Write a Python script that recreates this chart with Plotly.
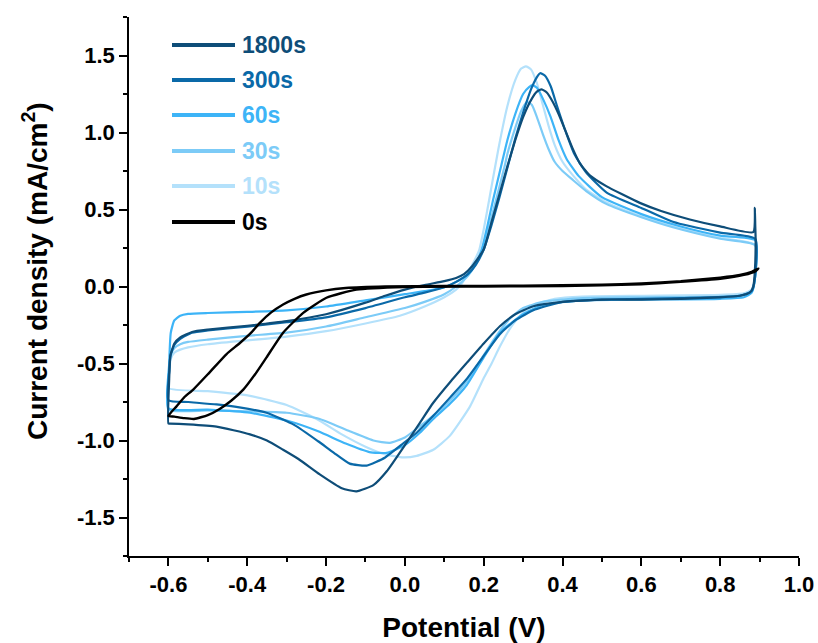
import plotly.graph_objects as go

# ---------------- data ----------------
labels = ["1800s", "300s", "60s", "30s", "10s", "0s"]
colors = ["#0e4d78", "#0a69a8", "#3db4f7", "#7ccbf7", "#b4e1fb", "#000000"]

# 1800s
v_1800 = [-0.600, -0.598, -0.595, -0.585, -0.57, -0.54, -0.50, -0.40, -0.30, -0.20, -0.10, -0.05, 0.00, 0.05, 0.10,
          0.13, 0.15, 0.17, 0.20, 0.22, 0.24, 0.26, 0.28, 0.30, 0.32, 0.335, 0.347, 0.36, 0.375, 0.39, 0.406, 0.425,
          0.444, 0.47, 0.512, 0.55, 0.596, 0.65, 0.723, 0.80, 0.884, 0.888, 0.889, 0.890, 0.888, 0.884, 0.875, 0.85,
          0.80, 0.70, 0.60, 0.50, 0.40, 0.326, 0.28, 0.241, 0.20, 0.157, 0.115, 0.072, 0.038, 0.00, -0.046, -0.08,
          -0.123, -0.16, -0.216, -0.27, -0.309, -0.35, -0.393, -0.478, -0.55, -0.596, -0.600]
i_1800 = [-0.89, -0.60, -0.45, -0.37, -0.33, -0.295, -0.28, -0.255, -0.225, -0.18, -0.105, -0.06, -0.02, 0.01, 0.035,
          0.055, 0.08, 0.13, 0.24, 0.42, 0.60, 0.78, 0.95, 1.10, 1.21, 1.265, 1.28, 1.26, 1.20, 1.12, 1.02, 0.90,
          0.80, 0.72, 0.65, 0.60, 0.543, 0.49, 0.435, 0.39, 0.353, 0.51, 0.40, 0.30, 0.10, 0.00, -0.04, -0.06,
          -0.07, -0.08, -0.085, -0.085, -0.10, -0.128, -0.18, -0.258, -0.37, -0.496, -0.62, -0.755, -0.885, -1.03, -1.20, -1.29,
          -1.33, -1.31, -1.22, -1.12, -1.06, -1.00, -0.96, -0.91, -0.895, -0.89, -0.89]

# 300s
v_300 = [-0.600, -0.598, -0.595, -0.585, -0.57, -0.54, -0.50, -0.40, -0.30, -0.20, -0.10, 0.00, 0.05, 0.10, 0.13,
         0.16, 0.18, 0.20, 0.22, 0.24, 0.26, 0.28, 0.30, 0.32, 0.335, 0.343, 0.355, 0.37, 0.385, 0.406, 0.43, 0.46,
         0.512, 0.60, 0.68, 0.80, 0.889, 0.888, 0.88, 0.85, 0.70, 0.50, 0.40, 0.33, 0.28, 0.241, 0.20, 0.157, 0.115,
         0.072, 0.03, -0.01, -0.05, -0.097, -0.14, -0.18, -0.22, -0.28, -0.351, -0.42, -0.478, -0.55, -0.600]
i_300 = [-0.738, -0.55, -0.45, -0.38, -0.34, -0.30, -0.285, -0.26, -0.232, -0.20, -0.14, -0.07, -0.04, -0.005, 0.03,
         0.08, 0.14, 0.24, 0.40, 0.58, 0.77, 0.96, 1.13, 1.28, 1.36, 1.385, 1.37, 1.30, 1.18, 1.02, 0.86, 0.74,
         0.61, 0.51, 0.42, 0.35, 0.31, 0.05, -0.03, -0.06, -0.075, -0.085, -0.10, -0.15, -0.22, -0.31, -0.45, -0.60, -0.72,
         -0.84, -0.95, -1.03, -1.11, -1.163, -1.15, -1.08, -1.005, -0.90, -0.82, -0.785, -0.766, -0.75, -0.738]

# 60s
v_60 = [-0.600, -0.598, -0.594, -0.585, -0.57, -0.55, -0.50, -0.40, -0.30, -0.20, -0.10, 0.00, 0.05, 0.10, 0.13,
        0.16, 0.18, 0.195, 0.21, 0.224, 0.245, 0.26, 0.28, 0.30, 0.315, 0.324, 0.335, 0.35, 0.37, 0.39, 0.41, 0.44,
        0.50, 0.60, 0.70, 0.80, 0.889, 0.888, 0.88, 0.86, 0.80, 0.60, 0.45, 0.35, 0.30, 0.241, 0.20, 0.157, 0.115,
        0.072, 0.038, 0.00, -0.046, -0.09, -0.15, -0.22, -0.30, -0.393, -0.50, -0.600]
i_60 = [-0.79, -0.50, -0.30, -0.22, -0.19, -0.178, -0.172, -0.165, -0.155, -0.13, -0.09, -0.05, -0.03, -0.005, 0.03,
        0.08, 0.15, 0.24, 0.40, 0.565, 0.79, 0.95, 1.12, 1.25, 1.295, 1.307, 1.29, 1.22, 1.10, 0.95, 0.83, 0.72,
        0.58, 0.47, 0.39, 0.33, 0.30, 0.05, -0.04, -0.07, -0.08, -0.085, -0.09, -0.12, -0.18, -0.30, -0.46, -0.64, -0.76,
        -0.86, -0.95, -1.03, -1.08, -1.075, -1.02, -0.94, -0.87, -0.82, -0.80, -0.79]

# 30s
v_30 = [-0.600, -0.598, -0.594, -0.585, -0.57, -0.55, -0.50, -0.40, -0.30, -0.20, -0.10, 0.00, 0.05, 0.10, 0.13,
        0.16, 0.18, 0.20, 0.22, 0.24, 0.254, 0.26, 0.28, 0.295, 0.31, 0.322, 0.335, 0.35, 0.365, 0.38, 0.40, 0.427,
        0.46, 0.512, 0.60, 0.68, 0.80, 0.889, 0.888, 0.88, 0.86, 0.80, 0.60, 0.45, 0.35, 0.30, 0.266, 0.232, 0.199,
        0.17, 0.14, 0.09, 0.038, 0.00, -0.038, -0.08, -0.14, -0.216, -0.30, -0.40, -0.50, -0.600]
i_30 = [-0.80, -0.55, -0.45, -0.40, -0.375, -0.36, -0.345, -0.32, -0.30, -0.26, -0.20, -0.14, -0.10, -0.05, 0.00,
        0.07, 0.15, 0.27, 0.45, 0.65, 0.79, 0.86, 1.03, 1.14, 1.197, 1.18, 1.10, 0.99, 0.89, 0.81, 0.75, 0.69,
        0.62, 0.535, 0.45, 0.385, 0.31, 0.268, 0.05, -0.03, -0.055, -0.065, -0.07, -0.075, -0.10, -0.14, -0.21, -0.32, -0.45,
        -0.57, -0.67, -0.80, -0.907, -0.98, -1.015, -1.00, -0.94, -0.86, -0.82, -0.81, -0.805, -0.80]

# 10s
v_10 = [-0.600, -0.598, -0.594, -0.585, -0.57, -0.55, -0.50, -0.40, -0.30, -0.20, -0.10, -0.013, 0.05, 0.10, 0.13,
        0.145, 0.16, 0.175, 0.189, 0.20, 0.214, 0.237, 0.26, 0.28, 0.295, 0.307, 0.32, 0.335, 0.35, 0.365, 0.38, 0.40,
        0.427, 0.46, 0.512, 0.60, 0.68, 0.80, 0.889, 0.888, 0.88, 0.86, 0.80, 0.60, 0.45, 0.38, 0.33, 0.30, 0.27,
        0.241, 0.22, 0.199, 0.165, 0.114, 0.072, 0.03, -0.004, -0.05, -0.10, -0.16, -0.224, -0.30, -0.393, -0.50, -0.600]
i_10 = [-0.66, -0.55, -0.47, -0.43, -0.41, -0.395, -0.375, -0.35, -0.325, -0.29, -0.24, -0.19, -0.13, -0.07, -0.02,
        0.02, 0.09, 0.16, 0.24, 0.37, 0.565, 0.89, 1.17, 1.34, 1.415, 1.43, 1.41, 1.32, 1.18, 1.04, 0.92, 0.81,
        0.72, 0.63, 0.545, 0.455, 0.39, 0.315, 0.27, 0.05, -0.02, -0.045, -0.055, -0.06, -0.065, -0.08, -0.12, -0.17, -0.26,
        -0.39, -0.50, -0.60, -0.78, -0.97, -1.06, -1.10, -1.11, -1.09, -1.04, -0.96, -0.86, -0.77, -0.71, -0.68, -0.66]

# 0s
v_0 = [-0.600, -0.58, -0.56, -0.537, -0.50, -0.453, -0.42, -0.39, -0.368, -0.34, -0.309, -0.28, -0.25, -0.20, -0.15,
       -0.05, 0.10, 0.30, 0.50, 0.60, 0.70, 0.80, 0.85, 0.88, 0.897, 0.89, 0.86, 0.80, 0.70, 0.60, 0.40, 0.20,
       0.00, -0.123, -0.199, -0.258, -0.309, -0.351, -0.38, -0.41, -0.44, -0.47, -0.50, -0.535, -0.56, -0.585, -0.600]
i_0 = [-0.84, -0.78, -0.72, -0.669, -0.57, -0.44, -0.37, -0.30, -0.236, -0.17, -0.117, -0.08, -0.052, -0.025, -0.01,
       0.0, 0.003, 0.005, 0.012, 0.02, 0.035, 0.058, 0.075, 0.095, 0.117, 0.10, 0.075, 0.05, 0.03, 0.015, 0.003, 0.0,
       -0.003, -0.02, -0.073, -0.171, -0.30, -0.46, -0.57, -0.67, -0.74, -0.795, -0.835, -0.86, -0.855, -0.845, -0.84]

series = {
    "1800s": (v_1800, i_1800),
    "300s": (v_300, i_300),
    "60s": (v_60, i_60),
    "30s": (v_30, i_30),
    "10s": (v_10, i_10),
    "0s": (v_0, i_0),
}

x_ticks = [-0.6, -0.4, -0.2, 0.0, 0.2, 0.4, 0.6, 0.8, 1.0]
y_ticks = [-1.5, -1.0, -0.5, 0.0, 0.5, 1.0, 1.5]
x_title = "Potential (V)"
y_title = "Current density (mA/cm<sup>2</sup>)"

FONT = "Liberation Sans, Arial, sans-serif"

fig = go.Figure()
draw_order = ["10s", "30s", "60s", "300s", "1800s", "0s"]
for name in draw_order:
    v, i = series[name]
    c = colors[labels.index(name)]
    fig.add_trace(go.Scatter(x=v, y=i, mode="lines", name=name, showlegend=False,
                             line=dict(color=c, width=2.4 if name == "0s" else 2.2, shape="spline", smoothing=0.5)))

W, H = 818, 643
L, R, T, B = 129, 799, 17, 556   # plot area in pixels


def px(xp):
    return (xp - L) / (R - L)


def py(yp):
    return (B - yp) / (B - T)


# manual legend (long line samples, coloured bold text)
row_y = [45, 80, 115, 151, 186, 222]
for k, name in enumerate(labels):
    yy = py(row_y[k])
    fig.add_shape(type="line", xref="paper", yref="paper", x0=px(172), x1=px(235), y0=yy, y1=yy,
                  line=dict(color=colors[k], width=4))
    fig.add_annotation(xref="paper", yref="paper", x=px(240), y=yy, xanchor="left", yanchor="middle",
                       text="<b>%s</b>" % name, showarrow=False,
                       font=dict(family=FONT, size=23, color=colors[k]))

# y-axis title (placed as in the reference, slightly above the axis centre)
fig.add_annotation(xref="paper", yref="paper", x=px(35), y=py(271), xanchor="center", yanchor="middle",
                   text="<b>%s</b>" % y_title, textangle=-90, showarrow=False,
                   font=dict(family=FONT, size=28, color="black"))

fig.update_layout(
    width=W, height=H, autosize=False,
    margin=dict(l=L, r=W - R, t=T, b=H - B, autoexpand=False),
    paper_bgcolor="white", plot_bgcolor="white",
    font=dict(family=FONT, size=22, color="black"),
)
fig.update_xaxes(
    range=[-0.7, 1.0], showgrid=False, zeroline=False,
    showline=True, linecolor="black", linewidth=1.5,
    ticks="outside", ticklen=8, tickwidth=1.5, tickcolor="black",
    tickvals=x_ticks, ticktext=["<b>%.1f</b>" % t for t in x_ticks],
    tickfont=dict(family=FONT, size=22),
    minor=dict(dtick=0.1, tick0=0, ticks="outside", ticklen=4, tickwidth=1.5, tickcolor="black"),
    title=dict(text="<b>%s</b>" % x_title, font=dict(family=FONT, size=28), standoff=21),
    automargin=False,
)
fig.update_yaxes(
    range=[-1.75, 1.75], showgrid=False, zeroline=False,
    showline=True, linecolor="black", linewidth=1.5,
    ticks="outside", ticklen=8, tickwidth=1.5, tickcolor="black",
    tickvals=y_ticks, ticktext=["<b>%.1f</b>" % t for t in y_ticks],
    tickfont=dict(family=FONT, size=22),
    minor=dict(dtick=0.25, tick0=0, ticks="outside", ticklen=4, tickwidth=1.5, tickcolor="black"),
    automargin=False,
)

fig.write_html("out.html", config={"displayModeBar": False},
               post_script="document.body.style.margin='0px';document.body.style.overflow='hidden';")
